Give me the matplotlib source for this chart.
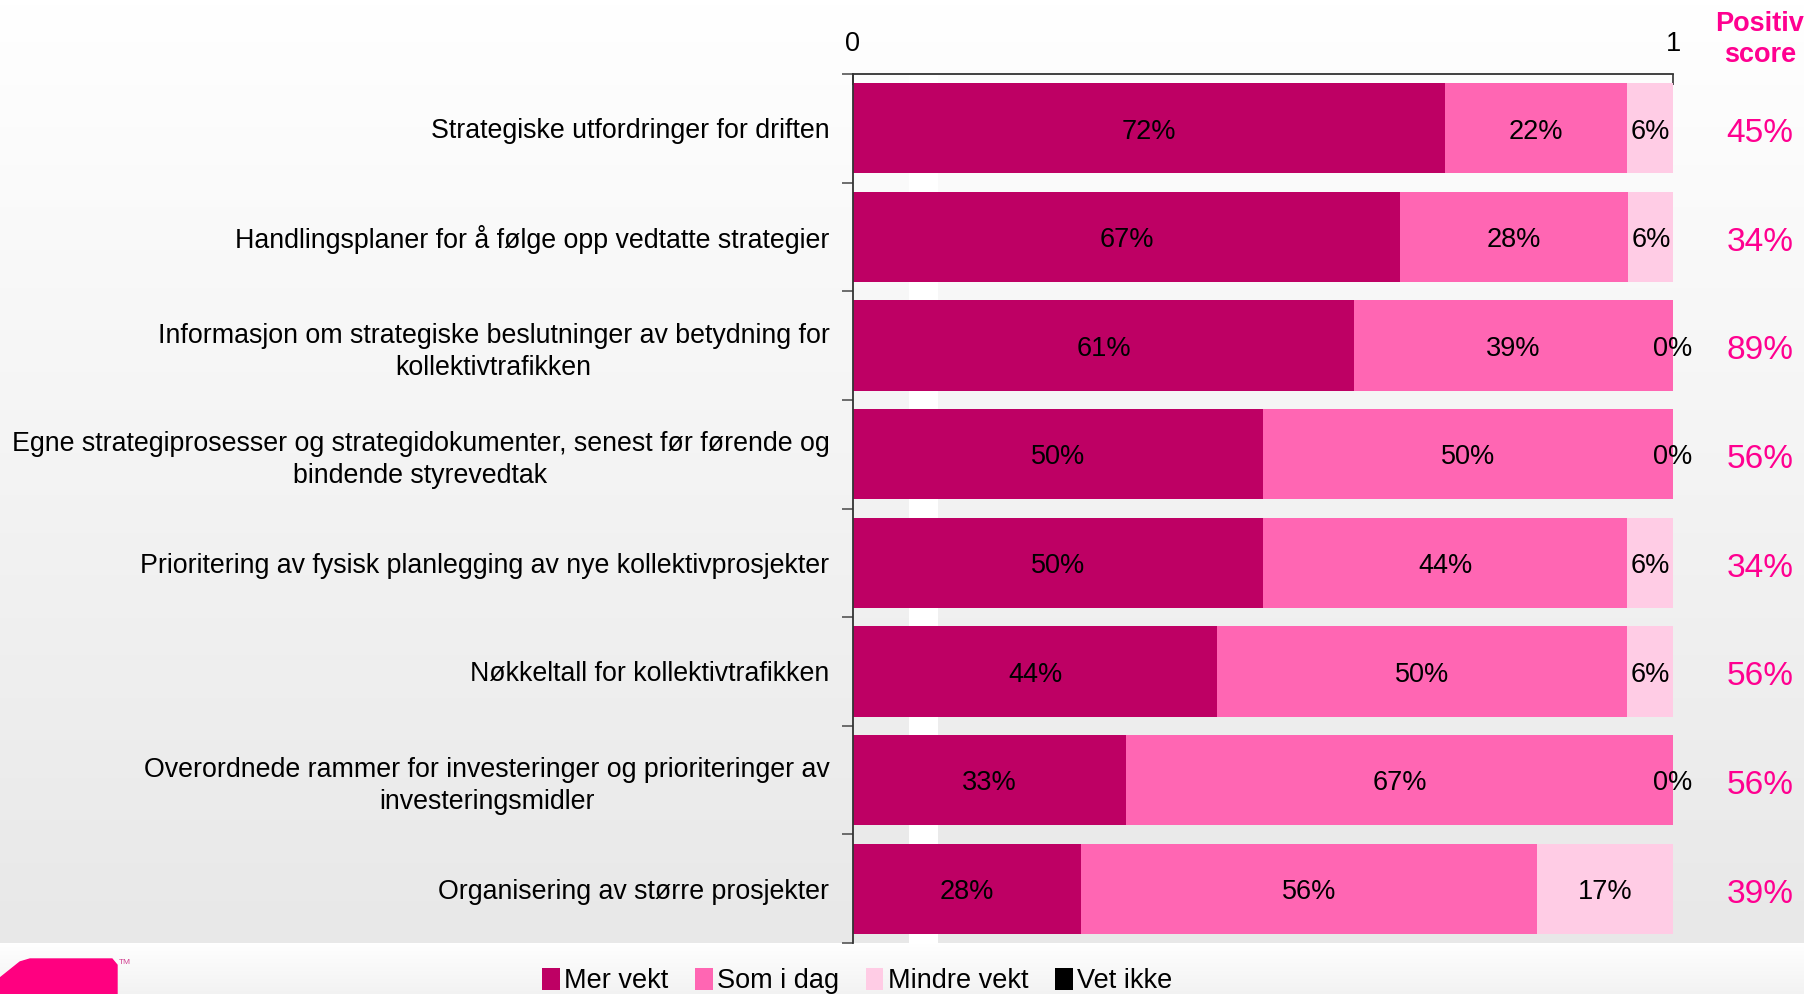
import matplotlib.pyplot as plt
import numpy as np
from matplotlib.patches import Patch, Polygon

plt.rcParams['font.family'] = ['Liberation Sans', 'DejaVu Sans']

# data
categories = [
    'Strategiske utfordringer for driften',
    'Handlingsplaner for å følge opp vedtatte strategier',
    'Informasjon om strategiske beslutninger av betydning for\nkollektivtrafikken',
    'Egne strategiprosesser og strategidokumenter, senest før førende og\nbindende styrevedtak',
    'Prioritering av fysisk planlegging av nye kollektivprosjekter',
    'Nøkkeltall for kollektivtrafikken',
    'Overordnede rammer for investeringer og prioriteringer av\ninvesteringsmidler',
    'Organisering av større prosjekter',
]
mer_vekt = [0.722, 0.667, 0.611, 0.500, 0.500, 0.444, 0.333, 0.278]
som_i_dag = [0.222, 0.278, 0.389, 0.500, 0.444, 0.500, 0.667, 0.556]
mindre_vekt = [0.056, 0.056, 0.0, 0.0, 0.056, 0.056, 0.0, 0.167]
vet_ikke = [0.0, 0.0, 0.0, 0.0, 0.0, 0.0, 0.0, 0.0]
positiv_score = ['45%', '34%', '89%', '56%', '34%', '56%', '56%', '39%']

series = [('Mer vekt', mer_vekt, '#be0064'),
          ('Som i dag', som_i_dag, '#ff66b3'),
          ('Mindre vekt', mindre_vekt, '#ffcce5'),
          ('Vet ikke', vet_ikke, '#000000')]
score_color = '#ff0090'

W, H = 1804, 994
fig = plt.figure(figsize=(W / 100, H / 100), dpi=100)

# background gradients + logo (pixel coordinates)
bg = fig.add_axes([0, 0, 1, 1], zorder=-10)
split = 943
top_grad = np.linspace(1.0, 0.91, 200).reshape(-1, 1)
bot_grad = np.linspace(1.0, 0.95, 50).reshape(-1, 1)
bg.imshow(np.dstack([top_grad] * 3), extent=(0, W, split, 0), aspect='auto')
bg.imshow(np.dstack([bot_grad] * 3), extent=(0, W, H, split), aspect='auto')
bg.set_xlim(0, W)
bg.set_ylim(H, 0)
bg.axis('off')
logo = Polygon([(0, H), (0, 978), (20, 962), (30, 959), (112, 959),
                (117, 965), (117, H)], closed=True, color='#ff0080')
bg.add_patch(logo)
bg.text(119, 963, 'TM', fontsize=6, color='#d04090', va='center', ha='left')

# main axes
left, right, top, bottom = 853, 1673, 74, 943
ax = fig.add_axes([left / W, 1 - bottom / H, (right - left) / W, (bottom - top) / H])
ax.patch.set_alpha(0)

y = np.arange(len(categories))
# faint white stripe seen behind the bars
ax.axvspan(0.068, 0.104, color='white', zorder=0, lw=0)

starts = np.zeros(len(categories))
for name, vals, col in series:
    vals = np.array(vals)
    ax.barh(y, vals, left=starts, height=0.83, color=col, zorder=2, lw=0)
    if name != 'Vet ikke':
        for yi, s, v in zip(y, starts, vals):
            ax.text(s + v / 2, yi + 0.03, f'{round(v * 100)}%', ha='center', va='center',
                    fontsize=19.5, color='black', zorder=3)
    starts += vals

ax.set_xlim(0, 1)
ax.set_ylim(len(categories) - 0.5, -0.5)

ax.xaxis.tick_top()
ax.set_xticks([0, 1])
ax.set_xticklabels(['0', '1'], fontsize=19.5)
ax.tick_params(axis='x', direction='in', length=8, width=1.2, pad=12, colors='#333333',
               labelcolor='black')

ax.set_yticks(y)
ax.set_yticklabels(categories, fontsize=19.3, multialignment='center', linespacing=1.3)
ax.tick_params(axis='y', which='major', length=0, pad=17)
ax.set_yticks(np.arange(-0.5, len(categories)), minor=True)
ax.tick_params(axis='y', which='minor', direction='out', length=8, width=1.2, color='#555555')

for sp in ['right', 'bottom']:
    ax.spines[sp].set_visible(False)
for sp in ['left', 'top']:
    ax.spines[sp].set_linewidth(1.3)
    ax.spines[sp].set_color('#333333')

# positive score column
sx = 1.106
ax.text(sx, -0.82, 'Positiv\nscore', ha='center', va='center', fontsize=19.5,
        fontweight='bold', color=score_color, clip_on=False, linespacing=1.25)
for yi, s in zip(y, positiv_score):
    ax.text(sx, yi + 0.05, s, ha='center', va='center', fontsize=24, color=score_color,
            clip_on=False)

handles = [Patch(facecolor=c, edgecolor='none', label=n) for n, _, c in series]
fig.legend(handles=handles, loc='center', bbox_to_anchor=(857 / W, 1 - 981 / H),
           ncol=4, frameon=False, fontsize=19.5, handlelength=0.65, handleheight=0.9,
           handletextpad=0.15, columnspacing=1.0)

fig.savefig('out.png', dpi=100)
